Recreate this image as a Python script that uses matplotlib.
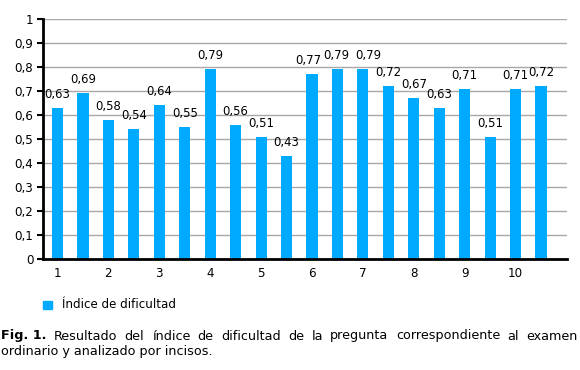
import matplotlib
matplotlib.use("Agg")
import matplotlib.pyplot as plt
import numpy as np

values = [0.63, 0.69, 0.58, 0.54, 0.64, 0.55, 0.79, 0.56, 0.51, 0.43,
          0.77, 0.79, 0.79, 0.72, 0.67, 0.63, 0.71, 0.51, 0.71, 0.72]
tick_labels = ["1", "2", "3", "4", "5", "6", "7", "8", "9", "10"]
series_name = "Índice de dificultad"
caption_bold = "Fig. 1."
caption_line1 = "Resultado del índice de dificultad de la pregunta correspondiente al examen"
caption_line2 = "ordinario y analizado por incisos."

color = "#00aaff"
W, H = 580, 370
fig = plt.figure(figsize=(W / 100, H / 100), dpi=100)
plt.rcParams['font.family'] = ['DejaVu Sans']
fs = 8.6
lfs = 8.4
cfs = 9.2

ax = fig.add_axes([43 / W, 1 - 259 / H, (567 - 43) / W, (259 - 19) / H])
x = np.arange(len(values))
ax.bar(x, values, width=0.44, color=color, zorder=3)
ax.set_xlim(-0.57, 20.02)
ax.set_ylim(0, 1)
yt = np.round(np.arange(0, 1.01, 0.1), 1)
ax.set_yticks(yt)
ax.set_yticklabels([("%g" % v).replace(".", ",") for v in yt], fontsize=fs)
ax.set_xticks(x[::2])
ax.set_xticklabels(tick_labels, fontsize=fs)
ax.tick_params(axis='x', length=0, pad=6)
ax.tick_params(axis='y', length=4, width=1.5, pad=3)
ax.yaxis.grid(True, color="#a8a8a8", linewidth=1, zorder=0)
for s in ["top", "right"]:
    ax.spines[s].set_visible(False)
for s in ["left", "bottom"]:
    ax.spines[s].set_linewidth(2)
    ax.spines[s].set_zorder(4)

# small horizontal nudges (in points) for crowded labels
nudge = {10: -3, 11: -1, 12: 4}
for xi, v in zip(x, values):
    ax.annotate(("%.2f" % v).replace(".", ","), (xi, v), xytext=(nudge.get(int(xi), 0), 5),
                textcoords="offset points", ha="center", va="bottom", fontsize=lfs)

# legend
fig.patches.append(plt.Rectangle((43 / W, 1 - 309 / H), 8.5 / W, 8 / H,
                                 transform=fig.transFigure, color=color, figure=fig))
fig.text(62 / W, 1 - 304.5 / H, series_name, fontsize=fs, va="center", ha="left")

# caption with justified first line
fig.canvas.draw()
r = fig.canvas.get_renderer()

def width(t, bold=False):
    tt = fig.text(0, 0, t, fontsize=cfs, fontweight="bold" if bold else "normal")
    w = tt.get_window_extent(renderer=r).width
    tt.remove()
    return w

x0, x1 = 1, 578
line1 = [(caption_bold, True)] + [(w, False) for w in caption_line1.split()]
ws = [width(w, b) for w, b in line1]
gap = ((x1 - x0) - sum(ws)) / (len(line1) - 1)
xp = x0
y1 = 1 - 336 / H
for (w, b), ww in zip(line1, ws):
    fig.text(xp / W, y1, w, fontsize=cfs, fontweight="bold" if b else "normal",
             va="center", ha="left")
    xp += ww + gap
fig.text(x0 / W, 1 - 352 / H, caption_line2, fontsize=cfs, va="center", ha="left")

fig.savefig("out.png", dpi=100)
